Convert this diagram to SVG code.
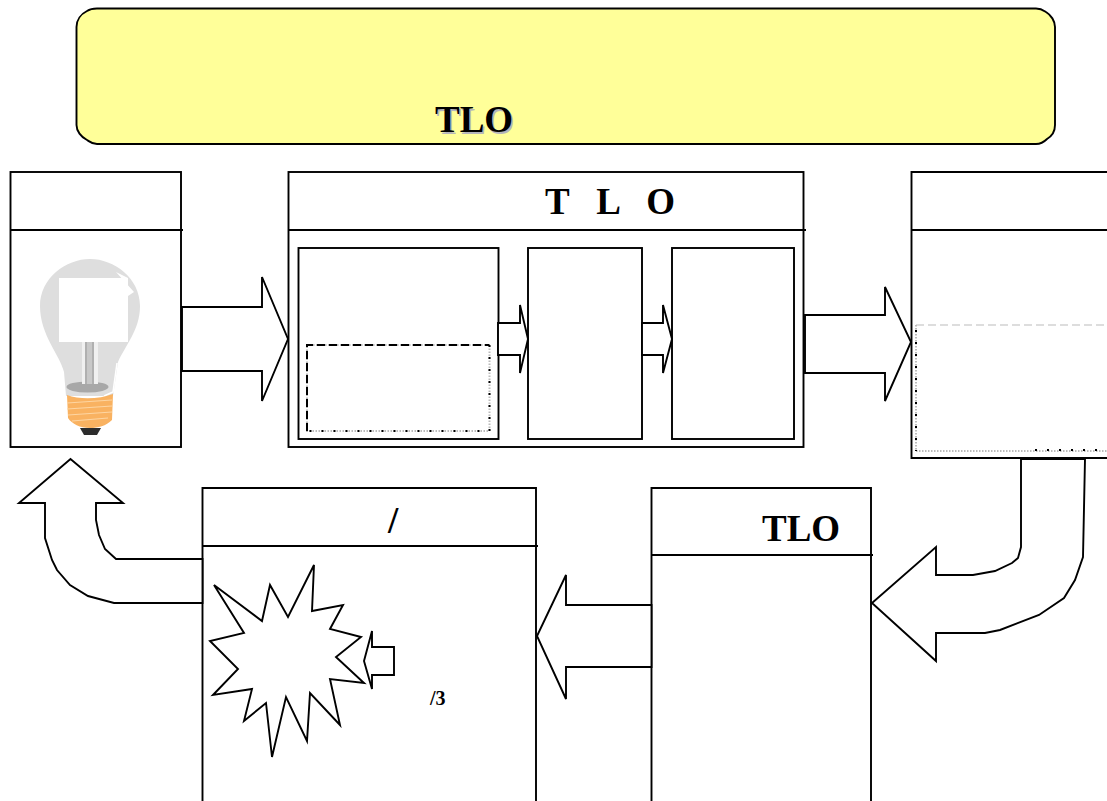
<svg xmlns="http://www.w3.org/2000/svg" width="1107" height="801" viewBox="0 0 1107 801">
<style>
.s{fill:#fff;stroke:#000;stroke-width:1.900;stroke-linejoin:miter}
.l{fill:none;stroke:#000;stroke-width:1.900}
text{font-family:"Liberation Serif","Times New Roman",serif;font-weight:bold;fill:#000}
.big{font-size:37px}
.g1{fill:none;stroke:#bbb;stroke-width:2;stroke-dasharray:1.500 1.500}
.g2{fill:none;stroke:#000;stroke-width:2;stroke-dasharray:2 10}
.d{fill:none;stroke:#000;stroke-width:2;stroke-dasharray:8 4}
</style>
<rect width="1107" height="801" fill="#fff"/>
<g id="banner">
<path d="M97 8.500H1036C1041 8.500 1043 10 1046 12C1051 15 1055 21 1055 27V125C1055 131 1052 136 1047 139C1044 142 1041 144 1036 144H97C92 144 90 142 87 140C81 137 76.500 131 76.500 125V27C76.500 20 81 14 87 11C90 9 92 8.500 97 8.500Z" fill="#ffff99" stroke="#000" stroke-width="1.900"/>
<text class="big" x="436.500" y="133.500" style="fill:#b4b4bc">TLO</text>
<text class="big" x="435" y="132">TLO</text>
</g>
<g id="node-idea">
<rect class="s" x="10.500" y="172" width="170.500" height="275"/>
<path class="l" d="M11 230H183"/>
<path d="M90 259C114 259 140 278 140 306C140 330 125 346 118 362L113 396H66L64 372C60 355 40 335 40 306C40 278 66 259 90 259Z" fill="#dedede"/>
<rect x="59" y="278" width="69" height="64" fill="#fff"/>
<path d="M116 272L134 292L128 296V278Z" fill="#fff"/>
<path d="M117 363L113 392L104 396" fill="none" stroke="#fff" stroke-width="1.500"/>
<ellipse cx="87.500" cy="387" rx="21" ry="5.500" fill="#a8a8a8"/>
<rect x="82" y="342" width="16" height="42" fill="#f0f0f0"/>
<rect x="85" y="342" width="9" height="42" fill="#b0b0b0"/>
<rect x="87" y="342" width="5" height="42" fill="#c8c8c8"/>
<path d="M67 395C80 400 100 399 113 394L112 420C106 426 98 428 90 428C80 428 72 424 68 418Z" fill="#f9b261"/>
<path d="M67 403L112 400M67 409L112 406M68 415L112 412M72 421L108 418" stroke="#fdd5a2" stroke-width="1.200" fill="none"/>
<path d="M80 428H101L97 435H84Z" fill="#2c2c2c"/>
</g>
<g id="node-tlo">
<rect class="s" x="288.500" y="172" width="515" height="275"/>
<path class="l" d="M289 230H806"/>
<text class="big" x="545" y="214" style="word-spacing:18px">T L O</text>
<rect class="s" x="298.500" y="248" width="200" height="191"/>
<rect class="s" x="528" y="248" width="114" height="191"/>
<rect class="s" x="672" y="248" width="122" height="191"/>
<rect class="g1" x="307" y="345" width="182.500" height="86"/>
<path class="d" d="M307 431V345H489.500"/>
<path class="g2" d="M489.500 345V431H307"/>
</g>
<g id="node-right">
<path class="s" d="M1110 172H911.500V458H1110"/>
<path class="l" d="M912 230H1107"/>
<path d="M916 325H1107" fill="none" stroke="#bbb" stroke-width="1" stroke-dasharray="8 4"/>
<path class="g1" d="M916 325V451H1107"/>
<path class="g2" d="M916 330V451"/>
<path class="g2" d="M1035 450H1107"/>
</g>
<g id="node-lower-mid">
<path class="s" d="M202.500 805V488H536V805"/>
<path class="l" d="M203 546H538"/>
<text class="big" x="388" y="533">/</text>
<text x="430" y="705" font-size="20">/3</text>
<path class="s" d="M214 585L262 621L270 585L288 617L314 565L312 611L343 605L330 629L361 637L336 657L364 683L330 679L340 725L310 693L307 741L286 697L272 757L266 703L244 721L252 689L213 695L238 669L210 641L244 633Z"/>
<path class="s" d="M394 647H372V631L364 661L372 689V675H394Z"/>
</g>
<g id="node-lower-tlo">
<path class="s" d="M651.500 805V488H871V805"/>
<path class="l" d="M652 555H873"/>
<text class="big" x="762" y="541">TLO</text>
</g>
<g id="connectors">
<path class="s" d="M182 307H262V277L288 339L262 401V371H182Z"/>
<path class="s" d="M498 323H520V305L528 339L520 373V355H498Z"/>
<path class="s" d="M642 323H663V305L672 339L663 373V355H642Z"/>
<path class="s" d="M805 315H885V287L911 342L885 401V373H805Z"/>
<path class="s" d="M1021 459V547L1018 558L1012 563L995 571L973 575H936V547L872 603L936 661V633H985L1000 630L1039 615L1064 598L1075 580L1083 557L1085 459Z"/>
<path class="s" d="M651.500 605H566V575L537 636L566 699V667H651.500Z"/>
<path class="s" d="M202.500 559H116L105 549L99 535L96 520V503H123L70.500 459L19 503H45V538L52 560L57 570L70 585L88 596L114 603H202.500Z"/>
</g>
</svg>
